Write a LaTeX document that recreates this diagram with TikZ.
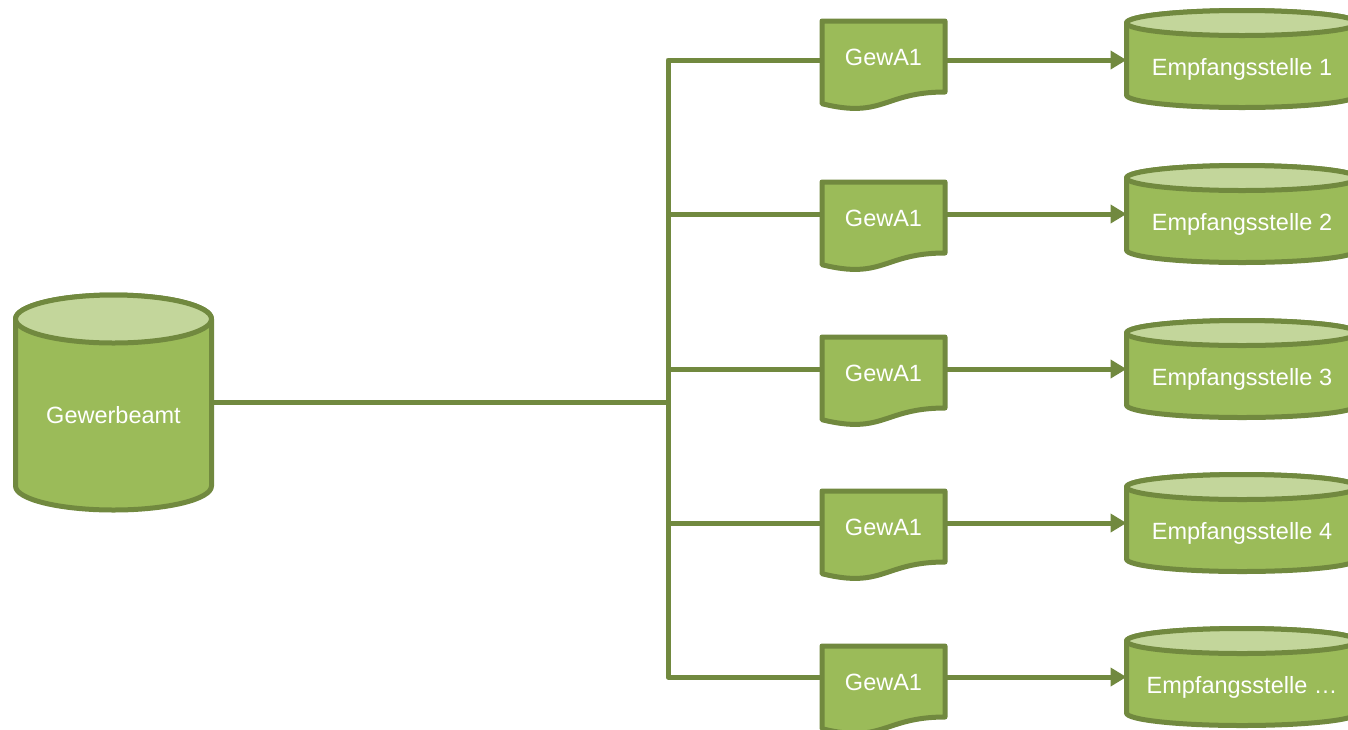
\documentclass[tikz,border=0pt]{standalone}
\usepackage{fontspec}
\setmainfont{Liberation Sans}
\usetikzlibrary{arrows.meta,calc}
\definecolor{gfill}{HTML}{9BBB59}
\definecolor{gline}{HTML}{71893F}
\definecolor{gtop}{HTML}{C3D69B}
\tikzset{
  shapeline/.style={draw=gline, line width=5pt, line join=round},
  frame/.style={rectangle, inner sep=0pt, outer sep=0pt, draw=none},
  lbl/.style={text=white, font=\fontsize{23.5}{28}\selectfont, inner sep=0pt},
  conn/.style={draw=gline, line width=5pt, line join=round},
  arr/.style={conn, -{Triangle[length=16pt,width=18pt]}},
}
% cylinder: #1 name, #2 cx, #3 cy (down), #4 w, #5 h, #6 ry
\newcommand\canshape[6]{%
  \path[shapeline, fill=gfill]
    ({#2-#4/2},{-(#3-#5/2+#6)}) -- ({#2-#4/2},{-(#3+#5/2-#6)})
    arc[start angle=180, end angle=360, x radius={#4/2}, y radius={#6}]
    -- ({#2+#4/2},{-(#3-#5/2+#6)})
    arc[start angle=0, end angle=180, x radius={#4/2}, y radius={#6}] -- cycle;
  \path[shapeline, fill=gtop] ({#2},{-(#3-#5/2+#6)}) ellipse[x radius={#4/2}, y radius={#6}];
  \node[frame, minimum width=#4pt, minimum height=#5pt] (#1) at (#2,-#3) {};
}
% document: #1 name, #2 cx, #3 top (down), #4 text
\newcommand\docshape[4]{%
  \path[shapeline, fill=gfill]
    ({#2-61.5},{-(#3)}) -- ({#2+61.5},{-(#3)}) -- ({#2+61.5},{-(#3+71)})
    .. controls ({#2},{-(#3+71)}) and ({#2},{-(#3+98)}) .. ({#2-61.5},{-(#3+82.7)}) -- cycle;
  \node[frame, lbl, minimum width=123pt, minimum height=71pt] (#1) at (#2,{-(#3+36.5)}) {#4};
}
\begin{document}
\begin{tikzpicture}[x=1pt,y=1pt]
\useasboundingbox (0,0) rectangle (1348,-729);
\clip (0,0) rectangle (1348,-729);

% source cylinder
\canshape{gew}{113.5}{402.5}{196}{215}{24}
\node[lbl] (gewt) at (113.5,-415) {Gewerbeamt};

% documents
\docshape{d1}{883.5}{21}{GewA1}
\docshape{d2}{883.5}{182}{GewA1}
\docshape{d3}{883.5}{337}{GewA1}
\docshape{d4}{883.5}{491}{GewA1}
\docshape{d5}{883.5}{646}{GewA1}

% receivers
\canshape{e1}{1242}{59}{231}{97}{12.5}
\canshape{e2}{1242}{214}{231}{97}{12.5}
\canshape{e3}{1242}{369}{231}{97}{12.5}
\canshape{e4}{1242}{523}{231}{97}{12.5}
\canshape{e5}{1242}{677}{231}{97}{12.5}
\node[lbl] (e1t) at (1242,-69) {Empfangsstelle 1};
\node[lbl] (e2t) at (1242,-224) {Empfangsstelle 2};
\node[lbl] (e3t) at (1242,-379) {Empfangsstelle 3};
\node[lbl] (e4t) at (1242,-533) {Empfangsstelle 4};
\node[lbl] (e5t) at (1242,-687) {Empfangsstelle …};

% junction coordinates
\coordinate (jn) at (668,-402.5);
\coordinate (j1) at (668,-60);
\coordinate (j2) at (668,-214);
\coordinate (j3) at (668,-369);
\coordinate (j4) at (668,-523);
\coordinate (j5) at (668,-677);

\draw[conn] (gew.east |- jn) -- (jn);
\draw[conn] (d1.west |- j1) -- (j1) -- (j5) -- (d5.west |- j5);
\draw[conn] (j2) -- (d2.west |- j2);
\draw[conn] (j3) -- (d3.west |- j3);
\draw[conn] (j4) -- (d4.west |- j4);

\draw[arr] (d1.east |- j1) -- (e1.west |- j1);
\draw[arr] (d2.east |- j2) -- (e2.west |- j2);
\draw[arr] (d3.east |- j3) -- (e3.west |- j3);
\draw[arr] (d4.east |- j4) -- (e4.west |- j4);
\draw[arr] (d5.east |- j5) -- (e5.west |- j5);
\end{tikzpicture}
\end{document}
